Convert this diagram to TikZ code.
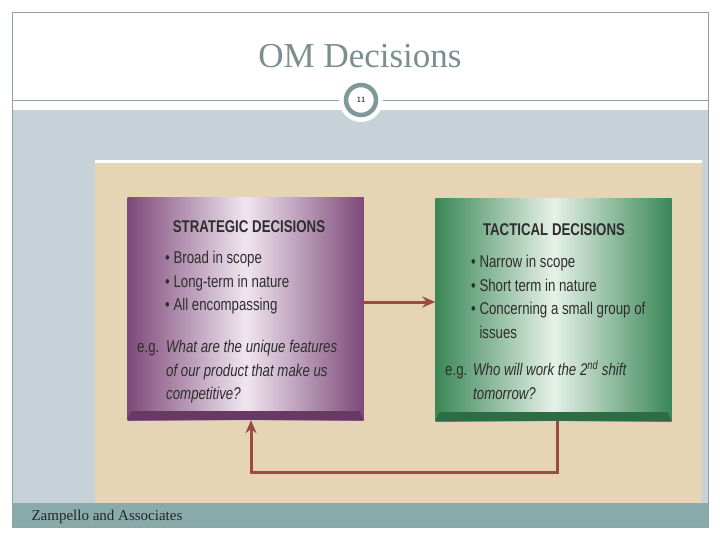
\documentclass[tikz,border=0pt]{standalone}
\usepackage{fontspec}
\setmainfont{Liberation Serif}
\newfontfamily\narrowsans[FakeStretch=0.78]{Liberation Sans}
\usetikzlibrary{shapes,arrows,arrows.meta,positioning,calc}

\definecolor{slideline}{HTML}{8FA3A3}
\definecolor{bandgray}{HTML}{C6D2D8}
\definecolor{cream}{HTML}{E6D5B5}
\definecolor{footbar}{HTML}{89ABAB}
\definecolor{titlegray}{HTML}{7B8F8F}
\definecolor{ringgray}{HTML}{7F9898}
\definecolor{purpdark}{HTML}{7E4979}
\definecolor{purplight}{HTML}{F0E6F0}
\definecolor{purpedge}{HTML}{683963}
\definecolor{greendark}{HTML}{3A8756}
\definecolor{greenlight}{HTML}{E6F1E8}
\definecolor{greenedge}{HTML}{2E6C46}
\definecolor{arrowred}{HTML}{9C4A44}
\definecolor{boxtext}{HTML}{2E2E2E}

\begin{document}
\begin{tikzpicture}[x=1pt, y=-1pt,
    panel/.style={rectangle, minimum width=236pt, minimum height=222pt, inner sep=0pt},
    head/.style={font=\narrowsans\bfseries\fontsize{17}{20}\selectfont, text=boxtext, anchor=north, inner sep=0pt},
    lines/.style={font=\narrowsans\fontsize{17}{23.5}\selectfont, text=boxtext, anchor=north west, align=left, inner sep=0pt},
    question/.style={lines, font=\narrowsans\itshape\fontsize{17}{23.5}\selectfont},
    arrow/.style={-{Stealth[length=13pt,width=11pt]}, line width=3pt, arrowred},
]
\useasboundingbox (0,0) rectangle (720,540);
% slide frame
\fill[white] (0,0) rectangle (720,540);
\fill[bandgray] (12,110) rectangle (708,503);
\fill[cream] (95,163) rectangle (702,503);
\draw[white, line width=3pt] (95,161.5) -- (702,161.5);
\fill[footbar] (12,503) rectangle (708,527);
\draw[slideline, line width=0.8pt] (12,12) rectangle (708,527);
\draw[slideline, line width=0.8pt] (12,100) -- (708,100);
\node[font=\fontsize{35}{40}\selectfont, text=titlegray] (title) at (360,56) {OM Decisions};
\fill[white] (361,100) circle (22pt);
\node[circle, draw=ringgray, line width=4.5pt, fill=white, minimum size=30pt, inner sep=0pt, font=\sffamily\fontsize{8}{9}\selectfont] (pagenum) at (361,100) {11};
\node[anchor=west, font=\fontsize{15}{17}\selectfont, text=black!85] (footer) at (28,517) {Zampello and Associates};

% the two panels
\node[panel, left color=purpdark, right color=purpdark, middle color=purplight] (strat) at (245.5,309) {};
\fill[purpedge] (strat.south west) -- (strat.south east) -- ([xshift=-4pt,yshift=9pt]strat.south east) -- ([xshift=4pt,yshift=9pt]strat.south west) -- cycle;
\node[panel, left color=greendark, right color=greendark, middle color=greenlight] (tact) at (553.5,310) {};
\fill[greenedge] (tact.south west) -- (tact.south east) -- ([xshift=-4pt,yshift=9pt]tact.south east) -- ([xshift=4pt,yshift=9pt]tact.south west) -- cycle;

\node[head] (strathead) at (249,220) {STRATEGIC DECISIONS};
\node[lines] (stratlist) at (165,251) {\textbullet\ Broad in scope\\ \textbullet\ Long-term in nature\\ \textbullet\ All encompassing};
\node[lines] (strateg) at (137,340) {\vphantom{h}e.g.};
\node[question] (stratq) at (166,340) {What are the unique features\\ of our product that make us\\ competitive?};

\node[head] (tacthead) at (554,223) {TACTICAL DECISIONS};
\node[lines] (tactlist) at (471,255) {\textbullet\ Narrow in scope\\ \textbullet\ Short term in nature\\ \textbullet\ Concerning a small group of\\ \hphantom{\textbullet\ }issues};
\node[lines] (tacteg) at (445,363) {\vphantom{h}e.g.};
\node[question] (tactq) at (473,363) {Who will work the 2\smash{\textsuperscript{nd}} shift\\ tomorrow?};

% connectors
\coordinate (midarrow) at (400,302);
\coordinate (loopR) at (557,472);
\coordinate (loopL) at (251,472);
\draw[arrow] (strat.east |- midarrow) -- (tact.west |- midarrow);
\draw[arrow] (tact.south -| loopR) -- (loopR) -- (loopL) -- (strat.south -| loopL);
\end{tikzpicture}
\end{document}
